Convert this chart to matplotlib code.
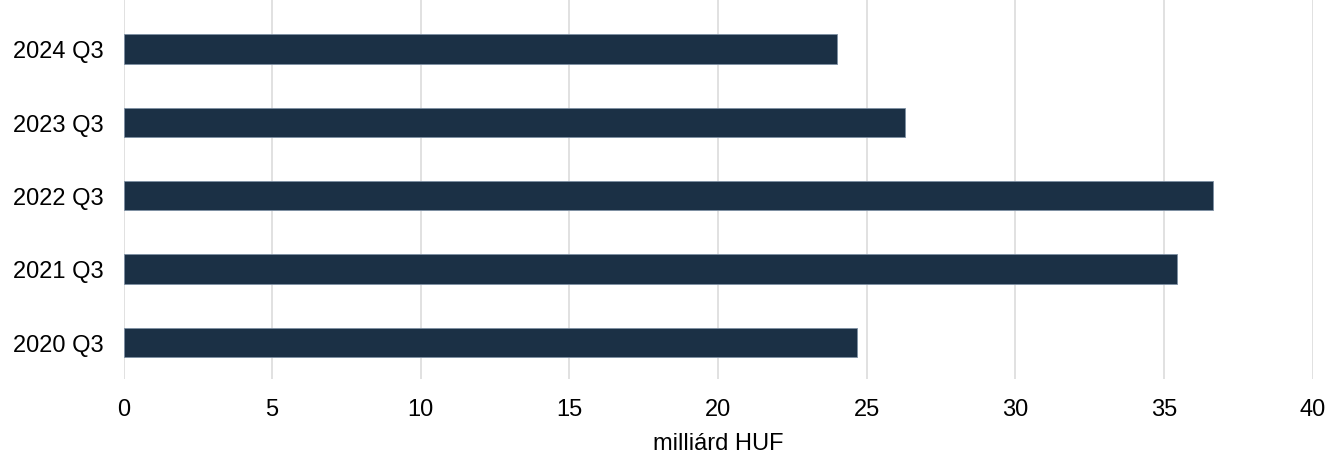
import matplotlib
matplotlib.use("Agg")
import matplotlib.pyplot as plt

categories = ["2020 Q3", "2021 Q3", "2022 Q3", "2023 Q3", "2024 Q3"]
values = [24.69, 35.43, 36.65, 26.3, 24.0]
xticks = [0, 5, 10, 15, 20, 25, 30, 35, 40]

plt.rcParams['font.family'] = ['Liberation Sans', 'DejaVu Sans']

W, H = 1326, 452
fig = plt.figure(figsize=(W / 100, H / 100), dpi=100)
left, right, top, bottom = 123.5, 1312.5, 0, 380
ax = fig.add_axes([left / W, 1 - bottom / H, (right - left) / W, (bottom - top) / H])

ypos = list(range(len(categories)))
ax.barh(ypos, values, height=0.4, color="#1b3045", edgecolor="#7d8fa3", linewidth=0.6, zorder=3)

ax.set_xlim(0, 40)
ax.set_ylim(-0.5, 4.68)
ax.set_xticks(xticks)
ax.set_xticklabels([str(t) for t in xticks])
ax.set_yticks(ypos)
ax.set_yticklabels(categories)
ax.tick_params(axis="both", length=0, labelsize=17, colors="#000000")
ax.tick_params(axis="y", pad=14)
ax.tick_params(axis="x", pad=14)
ax.grid(axis="x", color="#dcdcdc", linewidth=1.2, zorder=0)
ax.grid(axis="y", visible=False)
for s in ax.spines.values():
    s.set_visible(False)
ax.set_xlabel("milliárd HUF", fontsize=17, labelpad=8)

fig.savefig("out.png", dpi=100, facecolor="white")
